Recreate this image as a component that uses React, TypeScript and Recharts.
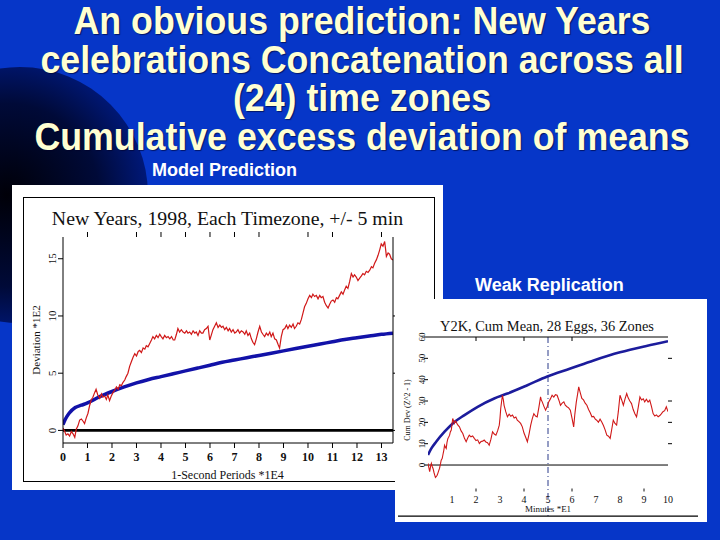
import React from 'react';
import { LineChart, Line, XAxis, YAxis, ReferenceLine } from 'recharts';

const SERIF = '"Liberation Serif", "DejaVu Serif", serif';
const SANS = '"Liberation Sans", Arial, sans-serif';

// ---- chart 1: New Years 1998 ----
const nyTicksX = [0, 1, 2, 3, 4, 5, 6, 7, 8, 9, 10, 11, 12, 13];
const nyTopTicks = [1, 3, 4, 5, 6, 7, 8, 10, 11, 13];
const nyTicksY = [0, 5, 10, 15];
const nyRightTicks = [0, 5, 10];

const nyRed = [
  [0, 0.2], [0.07, -0.1], [0.13, -0.4], [0.2, -0.3], [0.27, -0.5], [0.34, -0.1], [0.41, -0.3], [0.48, -0.6],
  [0.54, 0.1], [0.61, 0.4], [0.68, 0.9], [0.75, 1.0], [0.82, 0.8], [0.88, 0.6], [0.95, 1.1], [1.02, 1.5],
  [1.09, 2.2], [1.16, 2.7], [1.22, 2.9], [1.29, 3.3], [1.35, 3.6], [1.42, 3.1], [1.5, 2.8], [1.57, 3.2],
  [1.63, 2.9], [1.7, 3.0], [1.77, 2.7], [1.83, 3.1], [1.9, 2.6], [1.97, 3.0], [2.04, 3.3], [2.11, 3.5],
  [2.18, 3.8], [2.25, 3.6], [2.32, 4.0], [2.38, 3.9], [2.45, 4.2], [2.52, 4.4], [2.58, 4.7], [2.65, 5.0],
  [2.72, 5.6], [2.79, 6.0], [2.86, 6.4], [2.93, 6.7], [3.0, 6.5], [3.07, 6.9], [3.13, 7.0], [3.2, 6.8],
  [3.27, 7.2], [3.34, 7.1], [3.4, 7.4], [3.47, 7.3], [3.54, 7.6], [3.61, 7.9], [3.67, 8.2], [3.74, 8.0],
  [3.81, 8.3], [3.88, 8.1], [3.95, 8.4], [4.01, 8.2], [4.08, 8.0], [4.15, 8.3], [4.22, 8.1], [4.29, 8.2],
  [4.36, 8.0], [4.43, 8.2], [4.5, 7.9], [4.56, 7.9], [4.63, 8.4], [4.69, 8.9], [4.76, 8.6], [4.83, 8.8],
  [4.9, 8.6], [4.97, 8.5], [5.04, 8.7], [5.1, 8.5], [5.17, 8.6], [5.24, 8.4], [5.31, 8.7], [5.38, 8.5],
  [5.44, 8.6], [5.51, 8.3], [5.58, 8.7], [5.65, 8.5], [5.71, 8.5], [5.78, 8.8], [5.85, 8.9], [5.92, 9.1],
  [5.96, 8.4], [5.99, 7.9], [6.05, 8.3], [6.12, 8.8], [6.19, 9.1], [6.26, 9.4], [6.33, 9.0], [6.4, 9.2],
  [6.47, 9.0], [6.53, 9.1], [6.6, 8.8], [6.67, 9.0], [6.74, 8.7], [6.8, 8.9], [6.87, 8.6], [6.94, 8.8],
  [7.01, 8.5], [7.07, 8.6], [7.14, 8.8], [7.21, 8.5], [7.28, 8.7], [7.35, 8.6], [7.42, 8.4], [7.48, 8.7],
  [7.55, 8.3], [7.62, 8.5], [7.69, 8.0], [7.75, 7.7], [7.82, 7.5], [7.89, 8.0], [7.96, 8.6], [8.03, 9.1],
  [8.1, 8.6], [8.16, 8.4], [8.23, 8.2], [8.3, 8.5], [8.37, 8.3], [8.44, 8.6], [8.5, 8.2], [8.57, 8.5],
  [8.64, 8.0], [8.71, 7.9], [8.78, 7.5], [8.84, 7.2], [8.91, 8.2], [8.98, 8.8], [9.05, 8.9], [9.12, 9.2],
  [9.18, 8.9], [9.25, 9.2], [9.32, 9.0], [9.39, 9.3], [9.45, 8.9], [9.52, 9.1], [9.59, 9.4], [9.66, 9.3],
  [9.73, 9.7], [9.8, 10.3], [9.86, 10.8], [9.93, 11.1], [10.0, 11.5], [10.07, 11.8], [10.14, 11.6], [10.2, 11.9],
  [10.27, 11.7], [10.34, 11.8], [10.41, 11.5], [10.48, 11.8], [10.54, 11.6], [10.61, 11.7], [10.68, 11.2], [10.75, 10.9],
  [10.82, 10.7], [10.88, 11.0], [10.95, 11.3], [11.02, 11.4], [11.09, 11.2], [11.16, 11.6], [11.22, 11.5], [11.29, 11.8],
  [11.36, 12.1], [11.43, 11.9], [11.5, 12.3], [11.56, 12.6], [11.63, 12.4], [11.7, 13.0], [11.77, 13.7], [11.84, 13.4],
  [11.9, 13.6], [11.97, 13.4], [12.04, 13.1], [12.11, 13.3], [12.18, 13.5], [12.24, 13.7], [12.31, 13.6], [12.38, 13.9],
  [12.45, 13.8], [12.52, 14.0], [12.59, 14.3], [12.65, 14.2], [12.72, 14.6], [12.79, 14.9], [12.86, 15.3], [12.93, 15.8],
  [12.99, 16.3], [13.06, 16.1], [13.13, 16.5], [13.17, 15.8], [13.2, 15.2], [13.27, 15.5], [13.33, 15.4], [13.4, 15.0],
  [13.47, 14.9],
];

const nyBlue = [
  [0, 0.5], [0.1, 1.0], [0.25, 1.5], [0.5, 2.0], [0.75, 2.2], [1, 2.4], [1.5, 2.95], [2, 3.4], [2.5, 3.8],
  [3, 4.15], [3.5, 4.45], [4, 4.7], [4.5, 4.95], [5, 5.2], [5.5, 5.45], [6, 5.7], [6.5, 5.95], [7, 6.15],
  [7.5, 6.35], [8, 6.55], [8.5, 6.75], [9, 6.95], [9.5, 7.15], [10, 7.35], [10.5, 7.55], [11, 7.75],
  [11.5, 7.95], [12, 8.1], [12.5, 8.25], [13, 8.4], [13.47, 8.5],
];

// ---- chart 2: Y2K ----
const y2kTicksX = [1, 2, 3, 4, 5, 6, 7, 8, 9, 10];
const y2kTickMarks = [2, 4, 6, 9];
const y2kTopTicks = [2, 4, 6];
const y2kTicksY = [0, 10, 20, 30, 40, 50, 60];
const y2kRightTicks = [10, 20, 30, 50];

const y2kRed = [
  [0, 0.8], [0.04, -1.5], [0.07, -3.1], [0.11, -0.5], [0.14, 0.8], [0.18, -0.8], [0.21, -1.6], [0.25, -3.5],
  [0.28, -4.7], [0.31, -5.8], [0.34, -5.5], [0.38, -4.8], [0.41, -3.9], [0.45, -2.5], [0.48, -1.6], [0.52, 0.5],
  [0.55, 2.3], [0.59, 3.0], [0.62, 4.7], [0.66, 7.0], [0.69, 9.3], [0.72, 8.5], [0.76, 7.8], [0.79, 10.5],
  [0.83, 12.5], [0.86, 13.0], [0.9, 14.0], [0.93, 15.5], [0.97, 16.4], [1.0, 19.0], [1.03, 21.8], [1.07, 20.5],
  [1.1, 19.5], [1.14, 20.6], [1.17, 20.2], [1.24, 18.8], [1.31, 17.9], [1.38, 16.0], [1.45, 14.8], [1.52, 12.5],
  [1.59, 10.9], [1.66, 12.8], [1.72, 14.0], [1.79, 13.2], [1.86, 13.6], [1.93, 12.5], [2.0, 11.5], [2.07, 11.8],
  [2.14, 10.1], [2.21, 11.0], [2.28, 11.2], [2.34, 11.7], [2.41, 10.8], [2.48, 10.5], [2.55, 9.3], [2.62, 12.0],
  [2.69, 15.6], [2.76, 14.5], [2.83, 14.0], [2.9, 16.0], [2.97, 18.7], [3.0, 22.0], [3.03, 26.5], [3.07, 30.0],
  [3.1, 32.7], [3.14, 30.5], [3.17, 28.0], [3.24, 25.0], [3.31, 22.6], [3.38, 23.8], [3.45, 22.9], [3.52, 23.4],
  [3.59, 22.0], [3.66, 22.5], [3.72, 21.0], [3.79, 20.3], [3.86, 19.5], [3.93, 17.9], [4.0, 15.0], [4.07, 13.0],
  [4.14, 10.9], [4.21, 14.5], [4.28, 18.7], [4.34, 21.5], [4.41, 24.1], [4.48, 23.0], [4.55, 22.6], [4.62, 27.0],
  [4.69, 31.9], [4.72, 30.5], [4.76, 29.6], [4.83, 27.5], [4.9, 25.7], [4.97, 27.5], [5.03, 29.6], [5.1, 31.0],
  [5.17, 32.7], [5.24, 31.8], [5.31, 33.0], [5.38, 32.7], [5.45, 30.5], [5.52, 28.0], [5.59, 29.0], [5.66, 29.6],
  [5.72, 28.0], [5.79, 27.3], [5.86, 26.8], [5.93, 25.7], [6.0, 22.0], [6.07, 17.9], [6.12, 24.0], [6.18, 29.6],
  [6.23, 33.0], [6.28, 36.6], [6.34, 34.0], [6.41, 31.2], [6.48, 30.5], [6.55, 29.0], [6.62, 28.0], [6.69, 26.0],
  [6.76, 24.5], [6.83, 22.6], [6.9, 22.8], [6.97, 21.5], [7.03, 21.0], [7.1, 20.0], [7.17, 21.5], [7.24, 20.2],
  [7.31, 18.5], [7.38, 16.5], [7.45, 14.0], [7.52, 13.5], [7.59, 12.5], [7.66, 17.0], [7.72, 21.0], [7.79, 19.5],
  [7.86, 18.7], [7.93, 25.0], [8.0, 32.7], [8.07, 30.5], [8.14, 28.0], [8.21, 31.0], [8.28, 33.5], [8.34, 31.5],
  [8.41, 30.0], [8.48, 28.8], [8.55, 26.0], [8.62, 24.0], [8.69, 22.6], [8.76, 27.0], [8.83, 31.9], [8.9, 30.5],
  [8.97, 31.0], [9.03, 29.6], [9.1, 30.8], [9.17, 29.5], [9.24, 30.4], [9.31, 27.5], [9.38, 24.1], [9.45, 23.0],
  [9.52, 23.5], [9.59, 22.6], [9.66, 23.2], [9.72, 24.0], [9.79, 25.0], [9.86, 25.5], [9.93, 27.3], [10.0, 25.0],
];

const y2kBlue = [
  [0, 4.7], [0.14, 7.8], [0.34, 10.9], [0.69, 15.6], [1.03, 19.5], [1.52, 23.4], [2.07, 27.3], [2.76, 31.2],
  [3.31, 33.5], [4.14, 37.4], [4.97, 41.5], [5.93, 45.2], [6.9, 49], [8, 52.8], [9.1, 55.8], [10, 58],
];

const toPts = (arr: number[][]) => arr.map(([x, y]) => ({ x, y }));

const emptyTick = () => <text />;

function NyBottomTick(props: any) {
  const { x, y, payload } = props;
  return (
    <text x={x} y={y + 11} textAnchor="middle" fontFamily={SERIF} fontSize={12} fontWeight="bold" fill="#111">
      {payload.value}
    </text>
  );
}

function NyLeftTick(props: any) {
  const { x, y, payload } = props;
  return (
    <text x={x} y={y} transform={`rotate(-90 ${x} ${y})`} textAnchor="middle" fontFamily={SERIF} fontSize={11} fill="#111">
      {payload.value}
    </text>
  );
}

function Y2kBottomTick(props: any) {
  const { x, y, payload } = props;
  const mark = y2kTickMarks.includes(payload.value);
  return (
    <g>
      {mark && <line x1={x} x2={x} y1={y - 5} y2={y - 2} stroke="#111" strokeWidth={1} />}
      <text x={x} y={y + 9} textAnchor="middle" fontFamily={SERIF} fontSize={10} fill="#111">
        {payload.value}
      </text>
    </g>
  );
}

function Y2kLeftTick(props: any) {
  const { x, y, payload } = props;
  const bx = x + 3;
  return (
    <text x={bx} y={y} transform={`rotate(-90 ${bx} ${y})`} textAnchor="middle" fontFamily={SERIF} fontSize={9} fill="#111">
      {payload.value}
    </text>
  );
}

function NewYearsChart() {
  return (
    <div style={{ position: 'absolute', left: 12, top: 185, width: 431, height: 305, background: '#fff' }}>
      <div style={{ position: 'absolute', left: 11, top: 12, width: 412, height: 285, border: '1px solid #000', boxSizing: 'border-box' }} />
      <LineChart width={431} height={305} margin={{ top: 42, right: 0, bottom: 0, left: 0 }} style={{ position: 'absolute', left: 0, top: 0 }}>
        <XAxis
          xAxisId={0}
          type="number"
          dataKey="x"
          domain={[0, 13.47]}
          allowDataOverflow
          ticks={nyTicksX}
          interval={0}
          height={47}
          tickSize={5}
          stroke="#000"
          tick={NyBottomTick}
        />
        <XAxis
          xAxisId="top"
          orientation="top"
          type="number"
          dataKey="x"
          domain={[0, 13.47]}
          allowDataOverflow
          ticks={nyTopTicks}
          interval={0}
          height={10}
          tickSize={5}
          axisLine={false}
          stroke="#000"
          tick={emptyTick}
        />
        <YAxis
          yAxisId={0}
          type="number"
          domain={[-1.1, 16.9]}
          allowDataOverflow
          ticks={nyTicksY}
          interval={0}
          width={51}
          tickSize={5}
          stroke="#000"
          tick={NyLeftTick}
        />
        <YAxis
          yAxisId="r"
          orientation="right"
          type="number"
          domain={[-1.1, 16.9]}
          allowDataOverflow
          ticks={nyRightTicks}
          interval={0}
          width={50}
          tickSize={4}
          stroke="#000"
          tick={emptyTick}
        />
        <ReferenceLine y={0} stroke="#000" strokeWidth={2.6} />
        <Line data={toPts(nyBlue)} dataKey="y" type="monotone" stroke="#1212a8" strokeWidth={3.5} dot={false} isAnimationActive={false} />
        <Line data={toPts(nyRed)} dataKey="y" type="linear" stroke="#d01818" strokeWidth={1.2} dot={false} isAnimationActive={false} />
      </LineChart>
      <div style={{ position: 'absolute', left: 0, top: 21, width: 431, textAlign: 'center', fontFamily: SERIF, fontSize: 19.8, lineHeight: '24px', color: '#111', whiteSpace: 'nowrap' }}>
        New Years, 1998, Each Timezone, +/- 5 min
      </div>
      <div style={{ position: 'absolute', left: 0, top: 283, width: 431, textAlign: 'center', fontFamily: SERIF, fontSize: 12, lineHeight: '14px', color: '#111' }}>
        1-Second Periods *1E4
      </div>
      <div style={{ position: 'absolute', left: 24, top: 155, transform: 'translate(-50%, -50%) rotate(-90deg)', fontFamily: SERIF, fontSize: 11, color: '#111', whiteSpace: 'nowrap' }}>
        Deviation *1E2
      </div>
    </div>
  );
}

function Y2kChart() {
  return (
    <div style={{ position: 'absolute', left: 395, top: 299, width: 312, height: 223, background: '#fff' }}>
      <LineChart width={312} height={223} margin={{ top: 38, right: 0, bottom: 0, left: 0 }} style={{ position: 'absolute', left: 0, top: 0 }}>
        <XAxis
          xAxisId={0}
          type="number"
          dataKey="x"
          domain={[0, 10]}
          allowDataOverflow
          ticks={y2kTicksX}
          interval={0}
          height={33.5}
          tickSize={3}
          tickLine={false}
          axisLine={false}
          tick={Y2kBottomTick}
        />
        <XAxis
          xAxisId="top"
          orientation="top"
          mirror
          type="number"
          dataKey="x"
          domain={[0, 10]}
          allowDataOverflow
          ticks={y2kTopTicks}
          interval={0}
          tickSize={4}
          stroke="#000"
          tick={emptyTick}
        />
        <YAxis
          yAxisId={0}
          type="number"
          domain={[-11, 60]}
          allowDataOverflow
          ticks={y2kTicksY}
          interval={0}
          width={33}
          tickSize={4}
          axisLine={false}
          stroke="#000"
          tick={Y2kLeftTick}
        />
        <YAxis
          yAxisId="r"
          orientation="right"
          type="number"
          domain={[-11, 60]}
          allowDataOverflow
          ticks={y2kRightTicks}
          interval={0}
          width={39}
          tickSize={4}
          axisLine={false}
          stroke="#000"
          tick={emptyTick}
        />
        <ReferenceLine y={0} stroke="#000" strokeWidth={1} />
        <ReferenceLine
          segment={[{ x: 5, y: 60 }, { x: 5, y: -24 }]}
          ifOverflow="visible"
          stroke="#2a3a8a"
          strokeWidth={1}
          strokeDasharray="6 3 1 3"
        />
        <ReferenceLine
          segment={[{ x: -1.25, y: -23.9 }, { x: 11.25, y: -23.9 }]}
          ifOverflow="visible"
          stroke="#000"
          strokeWidth={1.2}
        />
        <Line data={toPts(y2kBlue)} dataKey="y" type="monotone" stroke="#1c1c9c" strokeWidth={2.6} dot={false} isAnimationActive={false} />
        <Line data={toPts(y2kRed)} dataKey="y" type="linear" stroke="#d01818" strokeWidth={1.1} dot={false} isAnimationActive={false} />
      </LineChart>
      <div style={{ position: 'absolute', left: 0, top: 17, width: 304, textAlign: 'center', fontFamily: SERIF, fontSize: 14.4, lineHeight: '20px', color: '#111', whiteSpace: 'nowrap' }}>
        Y2K, Cum Mean, 28 Eggs, 36 Zones
      </div>
      <div style={{ position: 'absolute', left: 0, top: 205, width: 306, textAlign: 'center', fontFamily: SERIF, fontSize: 9, lineHeight: '11px', color: '#111' }}>
        Minutes *E1
      </div>
      <div style={{ position: 'absolute', left: 12, top: 111, transform: 'translate(-50%, -50%) rotate(-90deg)', fontFamily: SERIF, fontSize: 8, color: '#111', whiteSpace: 'nowrap' }}>
        Cum Dev (Z^2 - 1)
      </div>
    </div>
  );
}

export default function App() {
  return (
    <div style={{ position: 'absolute', left: 0, top: 0, width: 720, height: 540, overflow: 'hidden', background: '#0636c8' }}>
      <svg width={720} height={540} style={{ position: 'absolute', left: 0, top: 0 }}>
        <defs>
          <radialGradient id="darkDisc" cx="0.45" cy="0.5" r="0.55">
            <stop offset="0%" stopColor="#000008" />
            <stop offset="65%" stopColor="#000a38" />
            <stop offset="100%" stopColor="#001878" />
          </radialGradient>
        </defs>
        <circle cx={20} cy={195} r={128} fill="url(#darkDisc)" />
      </svg>
      <div
        style={{
          position: 'absolute',
          left: 0,
          top: 2,
          width: 724,
          textAlign: 'center',
          fontFamily: SANS,
          fontWeight: 'bold',
          fontSize: 38,
          lineHeight: '38.7px',
          color: '#ffffd2',
          transform: 'scaleX(0.94)',
          transformOrigin: '362px 0',
          textShadow: '1px 1px 1px rgba(0,0,40,0.6)',
          whiteSpace: 'nowrap',
        }}
      >
        <div>An obvious prediction: New Years</div>
        <div>celebrations Concatenation across all</div>
        <div>(24) time zones</div>
        <div>Cumulative excess deviation of means</div>
      </div>
      <div style={{ position: 'absolute', left: 152, top: 160, fontFamily: SANS, fontWeight: 'bold', fontSize: 18, lineHeight: '20px', color: '#fff', whiteSpace: 'nowrap' }}>
        Model Prediction
      </div>
      <div style={{ position: 'absolute', left: 475, top: 275, fontFamily: SANS, fontWeight: 'bold', fontSize: 18, lineHeight: '20px', color: '#fff', whiteSpace: 'nowrap' }}>
        Weak Replication
      </div>
      <NewYearsChart />
      <Y2kChart />
    </div>
  );
}
